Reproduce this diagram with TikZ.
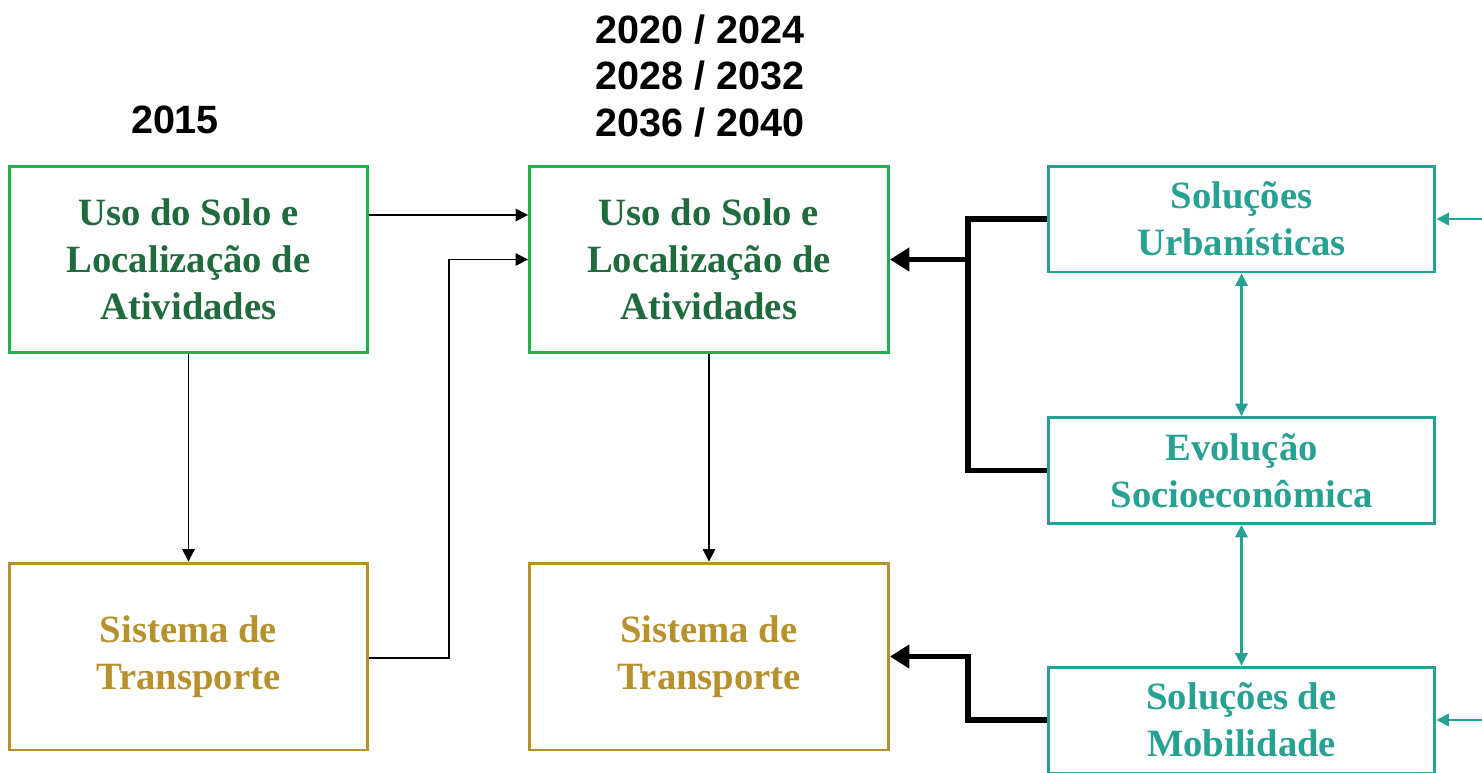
\documentclass[tikz,border=0pt]{standalone}
\usepackage{fontspec}
\setmainfont{Liberation Serif}
\newfontfamily\numfont{Liberation Sans}
\usetikzlibrary{arrows.meta}
\definecolor{boxgreen}{HTML}{22B04C}
\definecolor{textgreen}{HTML}{1F6B3E}
\definecolor{gold}{HTML}{B8912F}
\definecolor{teal}{HTML}{26A192}
\tikzset{
  every picture/.style={line join=miter, >={Triangle[length=7pt,width=7pt]}},
  box/.style={draw, line width=1.7pt, align=center, inner sep=0pt,
    font=\bfseries\fontsize{22}{26.7}\selectfont},
  landbox/.style={box, draw=boxgreen, text=textgreen, minimum width=7.18cm, minimum height=3.73cm},
  transbox/.style={box, draw=gold, text=gold, minimum width=7.18cm, minimum height=3.74cm},
  scenbox/.style={box, draw=teal, text=teal, minimum width=7.74cm, minimum height=2.12cm},
  year/.style={font=\numfont\bfseries\fontsize{22.5}{26.7}\selectfont, align=center},
  link/.style={line width=0.8pt, ->},
  fat/.style={line width=3pt, -{Triangle[length=11pt,width=13pt]}},
  tlink/.style={teal, line width=1.2pt, {Triangle[length=7pt,width=7pt]}-{Triangle[length=7pt,width=7pt]}},
  tin/.style={teal, line width=1.2pt, -{Triangle[length=7pt,width=7pt]}},
}
\begin{document}
\begin{tikzpicture}[x=0.02cm,y=-0.02cm]
\useasboundingbox (0,0) rectangle (1482,772);
\node[year] (y15) at (175,120) {2015};
\node[year] (yrs) at (700,76) {2020 / 2024\\2028 / 2032\\2036 / 2040};
\node[landbox] (A1) at (188.5,259.5) {Uso do Solo e\\Localização de\\Atividades};
\node[landbox] (A2) at (709,259.5) {Uso do Solo e\\Localização de\\Atividades};
\node[transbox] (T1) at (188.5,656.5) {Sistema de\\Transporte};
\node[transbox] (T2) at (709,656.5) {Sistema de\\Transporte};
\node[scenbox] (SU) at (1241.5,219) {Soluções\\Urbanísticas};
\node[scenbox] (EV) at (1241.5,470.5) {Evolução\\Socioeconômica};
\node[scenbox] (SM) at (1241.5,720) {Soluções de\\Mobilidade};
\coordinate (jn) at (968,0); \coordinate (bend) at (449,0);
\coordinate (inU) at (1484,219); \coordinate (inM) at (1484,720);
\draw[link] (A1.east|-0,215) -- (A2.west|-0,215);
\draw[link] (T1.east|-0,658) -| (bend|-A2.west) -- (A2.west);
\draw[link] (A1.south) -- (T1.north);
\draw[link] (A2.south) -- (T2.north);
\draw[line width=3pt] (SU.west) -| (jn|-EV.west) -- (EV.west);
\draw[fat] (jn|-A2.east) -- (A2.east);
\draw[fat] (SM.west) -| (jn|-T2.east) -- (T2.east);
\draw[tlink] (SU.south) -- (EV.north);
\draw[tlink] (EV.south) -- (SM.north);
\draw[tin] (inU) -- (SU.east); \draw[tin] (inM) -- (SM.east);
\end{tikzpicture}
\end{document}
